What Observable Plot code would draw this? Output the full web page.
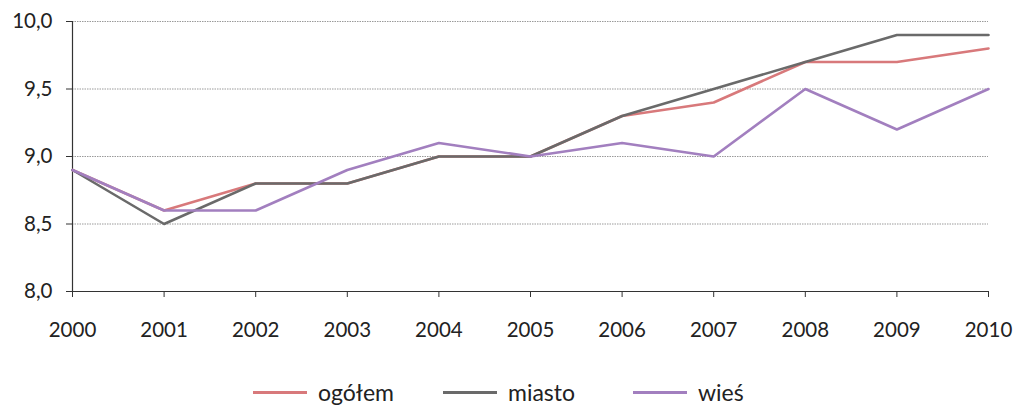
<!DOCTYPE html>
<html>
<head>
<meta charset="utf-8">
<script src="https://cdn.jsdelivr.net/npm/d3@7"></script>
<script src="https://cdn.jsdelivr.net/npm/@observablehq/plot@0.6"></script>
<style>
  body { margin: 0; background: #fff; font-family: Lato, "Open Sans", sans-serif; overflow: hidden; }
  #chart svg { display: block; }
  #legend { display: flex; justify-content: flex-start; align-items: center; height: 40px; margin-top: 12px; font-size: 23px; color: #222; padding-left: 253px; }
  .item { display: flex; align-items: center; width: 190px; }
  .swatch { width: 54px; height: 3px; margin-right: 11px; }
</style>
</head>
<body>
<div id="chart"></div>
<div id="legend"></div>
<script>
const years = [2000, 2001, 2002, 2003, 2004, 2005, 2006, 2007, 2008, 2009, 2010];
const ogolem = [8.9, 8.6, 8.8, 8.8, 9.0, 9.0, 9.3, 9.4, 9.7, 9.7, 9.8];
const miasto = [8.9, 8.5, 8.8, 8.8, 9.0, 9.0, 9.3, 9.5, 9.7, 9.9, 9.9];
const wies   = [8.9, 8.6, 8.6, 8.9, 9.1, 9.0, 9.1, 9.0, 9.5, 9.2, 9.5];
const seriesNames = ["ogółem", "miasto", "wieś"];
const seriesValues = [ogolem, miasto, wies];
const colors = ["#d8797b", "#6a6a6a", "#a27fbf"];
const yTicks = [8.0, 8.5, 9.0, 9.5, 10.0];
const gridTicks = [8.5, 9.0, 9.5, 10.0];

const data = seriesNames.flatMap((name, i) =>
  years.map((year, j) => ({ series: name, year, value: seriesValues[i][j] }))
);

const chart = Plot.plot({
  width: 1015,
  height: 360,
  marginLeft: 72,
  marginRight: 27,
  marginTop: 21,
  marginBottom: 69,
  style: { fontFamily: "Lato, 'Open Sans', sans-serif", fontSize: "20.5px", color: "#222", background: "#fff" },
  x: { domain: [years[0], years[years.length - 1]], label: null },
  y: { domain: [yTicks[0], yTicks[yTicks.length - 1]], label: null },
  color: { domain: seriesNames, range: colors },
  marks: [
    Plot.gridY(gridTicks, { stroke: "#9a9a9a", strokeOpacity: 1, strokeDasharray: "1.5,1", strokeWidth: 1 }),
    Plot.axisY(yTicks, { tickSize: 6, tickPadding: 14, tickFormat: d => d.toFixed(1).replace(".", ","), stroke: "#333", fill: "#222", label: null }),
    Plot.axisX(years, { tickSize: 6, tickPadding: 25, tickFormat: d => String(d), stroke: "#333", fill: "#222", label: null }),
    Plot.ruleX([years[0]], { y1: yTicks[0], y2: yTicks[yTicks.length - 1], stroke: "#333", strokeWidth: 1.2 }),
    Plot.ruleY([yTicks[0]], { stroke: "#333", strokeWidth: 1.2 }),
    Plot.line(data, { x: "year", y: "value", z: "series", stroke: "series", strokeWidth: 2.6 })
  ]
});
document.getElementById("chart").appendChild(chart);

const legend = document.getElementById("legend");
seriesNames.forEach((name, i) => {
  const item = document.createElement("div");
  item.className = "item";
  const sw = document.createElement("div");
  sw.className = "swatch";
  sw.style.background = colors[i];
  const label = document.createElement("span");
  label.textContent = name;
  item.appendChild(sw);
  item.appendChild(label);
  legend.appendChild(item);
});
</script>
</body>
</html>
